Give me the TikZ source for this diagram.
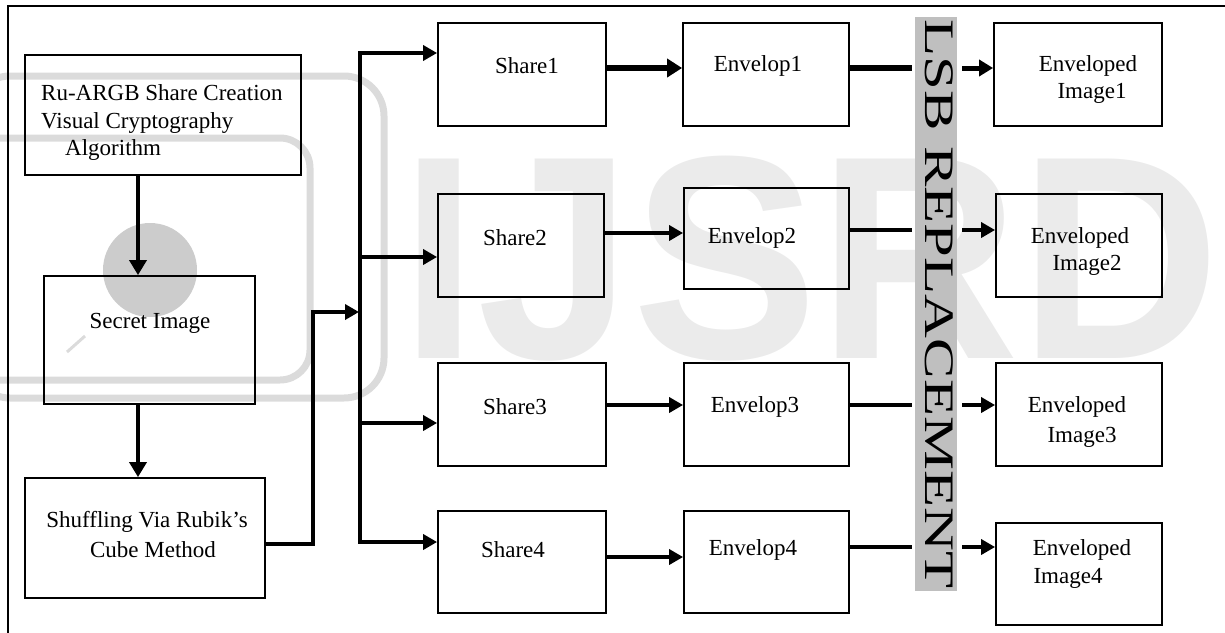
\documentclass[tikz,border=0pt]{standalone}
\usepackage{fontspec}
\setmainfont{Liberation Serif}
\newfontfamily\logofont{Liberation Sans}
\usetikzlibrary{arrows.meta,calc}

\tikzset{
  box/.style={draw, line width=1.8pt, inner sep=0pt},
  lbl/.style={inner sep=0pt, font=\fontsize{23}{28}\selectfont},
  wire/.style={line width=3.5pt},
  conn/.style={line width=3.5pt, -{Triangle[length=14pt,width=15pt]}},
  heavywire/.style={line width=6pt},
  heavy/.style={line width=6pt, -{Triangle[length=15pt,width=18pt]}},
  wmark/.style={black!14}
}

\begin{document}
\begin{tikzpicture}[x=1pt,y=-1pt]
\useasboundingbox (0,0) rectangle (1225,632);
\clip (0,0) rectangle (1225,632);

% faint logo in the background
\begin{scope}[wmark]
  \draw[line width=7pt, rounded corners=40pt] (-30,76) rectangle (384,398);
  \draw[line width=7pt, rounded corners=30pt] (-30,138) rectangle (310,380);
  \fill[black!20] (150,270) circle[radius=47];
  \draw[line width=3pt] (67,352) -- (85,336);
  \node[anchor=base west, inner sep=0pt, xscale=0.96, text=black!8,
        font=\logofont\bfseries\fontsize{290}{290}\selectfont] (logo) at (400,358) {IJSRD};
\end{scope}

% outer frame
\draw[line width=1.8pt] (8,6) rectangle (1240,650);

% left column
\node[box, minimum width=276pt, minimum height=120pt] (ru)  at (163,115) {};
\node[box, minimum width=211pt, minimum height=128pt] (sec) at (149.5,340) {};
\node[box, minimum width=240pt, minimum height=120pt] (shf) at (145,538) {};

\node[lbl, anchor=west] at (41,93)  {Ru-ARGB Share Creation};
\node[lbl, anchor=west] at (41,123) {Visual Cryptography};
\node[lbl, anchor=west] at (65,150) {Algorithm};
\node[lbl] at (150,323) {Secret Image};
\node[lbl] at (147,522) {Shuffling Via Rubik’s};
\node[lbl] at (153,550) {Cube Method};

% shares
\node[box, minimum width=168pt, minimum height=103pt] (s1) at (522,74.5) {};
\node[box, minimum width=166pt, minimum height=103pt] (s2) at (521,245.5) {};
\node[box, minimum width=168pt, minimum height=103pt] (s3) at (522,414.5) {};
\node[box, minimum width=168pt, minimum height=102pt] (s4) at (522,562) {};
\node[lbl] at (527,66)  {Share1};
\node[lbl] at (515,238) {Share2};
\node[lbl] at (515,407) {Share3};
\node[lbl] at (513,550) {Share4};

% envelops
\node[box, minimum width=166pt, minimum height=103pt] (e1) at (766,74.5) {};
\node[box, minimum width=165pt, minimum height=101pt] (e2) at (766.5,238.5) {};
\node[box, minimum width=165pt, minimum height=103pt] (e3) at (766.5,414.5) {};
\node[box, minimum width=165pt, minimum height=102pt] (e4) at (766.5,562) {};
\node[lbl] at (758,66)  {Envelop1};
\node[lbl] at (752,238) {Envelop2};
\node[lbl] at (755,407) {Envelop3};
\node[lbl] at (753,550) {Envelop4};

% LSB replacement bar
\node[fill=black!25, inner sep=0pt, minimum width=42pt, minimum height=574pt] (bar) at (936,304) {};
\node[rotate=-90, inner sep=0pt, font=\fontsize{42}{42}\selectfont] (lsb) at (939,304)
  {\scalebox{1.445}[1]{LSB REPLACEMENT}};

% enveloped images
\node[box, minimum width=168pt, minimum height=103pt] (o1) at (1078,74.5) {};
\node[box, minimum width=166pt, minimum height=103pt] (o2) at (1079,245.5) {};
\node[box, minimum width=166pt, minimum height=103pt] (o3) at (1079,414.5) {};
\node[box, minimum width=166pt, minimum height=102pt] (o4) at (1079,574) {};
\node[lbl] at (1088,66)  {Enveloped};
\node[lbl] at (1092,93)  {Image1};
\node[lbl] at (1080,238) {Enveloped};
\node[lbl] at (1087,265) {Image2};
\node[lbl] at (1077,407) {Enveloped};
\node[lbl] at (1082,437) {Image3};
\node[lbl] at (1082,550) {Enveloped};
\node[lbl] at (1068,578) {Image4};

% routing points
\coordinate (dx) at (138,0);
\coordinate (j1) at (313,544);
\coordinate (j2) at (313,312);
\coordinate (bt) at (360,53);
\coordinate (bb) at (360,542);
\coordinate (t2) at (0,257);
\coordinate (t3) at (0,423);
\coordinate (r1) at (0,68);
\coordinate (r2) at (0,233);
\coordinate (r3) at (0,405);
\coordinate (r4) at (0,557);
\coordinate (q2) at (0,230);
\coordinate (q4) at (0,547);

% left column flow
\draw[line width=3.5pt, -{Triangle[length=15pt,width=17pt]}] (ru.south -| dx) -- (sec.north -| dx);
\draw[line width=3.5pt, -{Triangle[length=15pt,width=17pt]}] (sec.south -| dx) -- (shf.north -| dx);
\draw[conn, shorten >=1pt] (shf.east |- j1) -- (j1) -- (j2) -- (bt |- j2);

% distribution bus to the shares
\draw[conn] (bb) -- (bt) -- (s1.west |- bt);
\draw[conn] (bt) -- (bb) -- (s4.west |- bb);
\draw[conn] (bt |- t2) -- (s2.west |- t2);
\draw[conn] (bt |- t3) -- (s3.west |- t3);

% shares to envelops
\draw[heavy] (s1.east |- r1) -- (e1.west |- r1);
\draw[conn] (s2.east |- r2) -- (e2.west |- r2);
\draw[conn] (s3.east |- r3) -- (e3.west |- r3);
\draw[conn] (s4.east |- r4) -- (e4.west |- r4);

% envelops through the LSB bar
\draw[heavywire, shorten >=3pt] (e1.east |- r1) -- (bar.west |- r1);
\draw[wire, shorten >=3pt] (e2.east |- q2) -- (bar.west |- q2);
\draw[wire, shorten >=3pt] (e3.east |- r3) -- (bar.west |- r3);
\draw[wire, shorten >=3pt] (e4.east |- q4) -- (bar.west |- q4);

\draw[line width=5pt, -{Triangle[length=14pt,width=16pt]}, shorten <=5pt] (bar.east |- r1) -- (o1.west |- r1);
\draw[conn, shorten <=5pt] (bar.east |- q2) -- (o2.west |- q2);
\draw[conn, shorten <=5pt] (bar.east |- r3) -- (o3.west |- r3);
\draw[conn, shorten <=5pt] (bar.east |- q4) -- (o4.west |- q4);
\end{tikzpicture}
\end{document}
